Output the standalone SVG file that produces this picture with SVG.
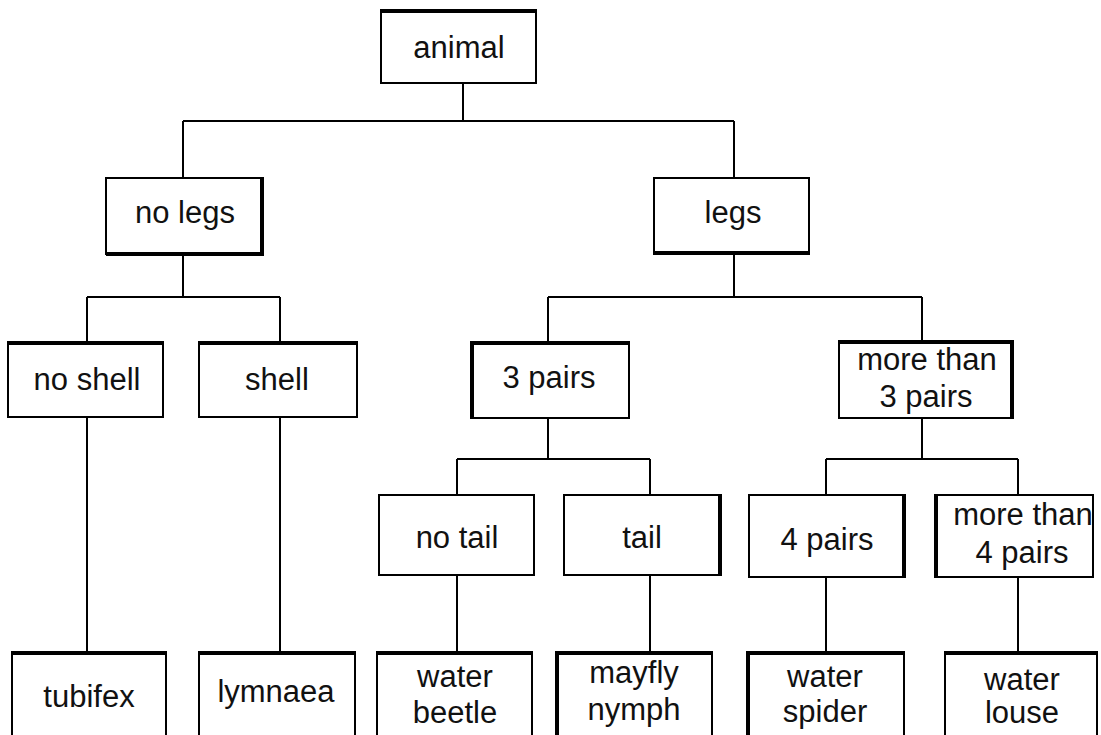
<svg xmlns="http://www.w3.org/2000/svg" width="1101" height="735" viewBox="0 0 1101 735">
<style>
.b{fill:#fff;stroke:#000;stroke-width:2}
.t{stroke:#000;stroke-width:4;fill:none}
.c{stroke:#000;stroke-width:2;fill:none}
text{font-family:"Liberation Sans",Arial,sans-serif;font-size:31px;fill:#111;text-anchor:middle}
</style>
<rect width="1101" height="735" fill="#fff"/>
<g id="connectors">
<path class="c" d="M463 83V121M183 121H734M183 121V178M734 121V178"/>
<path class="c" d="M183 254V297M87 297H280M87 297V342M280 297V342"/>
<path class="c" d="M734 254V297M548 297H922M548 297V342M922 297V342"/>
<path class="c" d="M87 417V652M280 417V652"/>
<path class="c" d="M548 418V459M457 459H650M457 459V495M650 459V495"/>
<path class="c" d="M922 418V459M826 459H1018M826 459V495M1018 459V495"/>
<path class="c" d="M457 575V652M650 575V652M826 577V652M1018 577V652"/>
</g>
<g id="animal"><rect class="b" x="381" y="10" width="155" height="73"/><path class="t" d="M381 11H536"/><text x="459" y="58">animal</text></g>
<g id="nolegs"><rect class="b" x="106" y="178" width="157" height="76"/><path class="t" d="M262 178V254H106"/><text x="185" y="223">no legs</text></g>
<g id="legs"><rect class="b" x="654" y="178" width="155" height="76"/><path class="t" d="M654 253H809"/><text x="733" y="223">legs</text></g>
<g id="noshell"><rect class="b" x="8" y="342" width="155" height="75"/><path class="t" d="M8 343H163"/><text x="87" y="390">no shell</text></g>
<g id="shell"><rect class="b" x="199" y="342" width="158" height="75"/><path class="t" d="M199 343H357"/><text x="277" y="390">shell</text></g>
<g id="threepairs"><rect class="b" x="471" y="342" width="158" height="76"/><path class="t" d="M472 418V343H629"/><text x="549" y="388">3 pairs</text></g>
<g id="morethan3"><rect class="b" x="839" y="341" width="174" height="77"/><path class="t" d="M839 342H1012V418"/><text x="927" y="370">more than</text><text x="926" y="407">3 pairs</text></g>
<g id="notail"><rect class="b" x="379" y="495" width="155" height="80"/><text x="457" y="548">no tail</text></g>
<g id="tail"><rect class="b" x="564" y="495" width="157" height="80"/><path class="t" d="M720 495V575"/><text x="642" y="548">tail</text></g>
<g id="fourpairs"><rect class="b" x="749" y="495" width="156" height="82"/><path class="t" d="M904 495V577"/><text x="827" y="550">4 pairs</text></g>
<g id="morethan4"><rect class="b" x="935" y="495" width="158" height="82"/><path class="t" d="M936 495V577"/><text x="1023" y="525">more than</text><text x="1022" y="563">4 pairs</text></g>
<g id="tubifex"><rect class="b" x="12" y="652" width="154" height="100"/><path class="t" d="M12 653H166"/><text x="89" y="707">tubifex</text></g>
<g id="lymnaea"><rect class="b" x="199" y="652" width="156" height="100"/><path class="t" d="M199 653H355"/><text x="276" y="702">lymnaea</text></g>
<g id="waterbeetle"><rect class="b" x="377" y="652" width="155" height="100"/><path class="t" d="M377 653H532"/><text x="455" y="687">water</text><text x="455" y="723">beetle</text></g>
<g id="mayfly"><rect class="b" x="556" y="652" width="156" height="100"/><path class="t" d="M557 735V653H712"/><text x="634" y="683">mayfly</text><text x="634" y="720">nymph</text></g>
<g id="waterspider"><rect class="b" x="747" y="652" width="157" height="100"/><path class="t" d="M748 735V653H904"/><text x="825" y="687">water</text><text x="825" y="722">spider</text></g>
<g id="waterlouse"><rect class="b" x="945" y="652" width="152" height="100"/><path class="t" d="M945 653H1097"/><text x="1022" y="690">water</text><text x="1022" y="723">louse</text></g>
</svg>
